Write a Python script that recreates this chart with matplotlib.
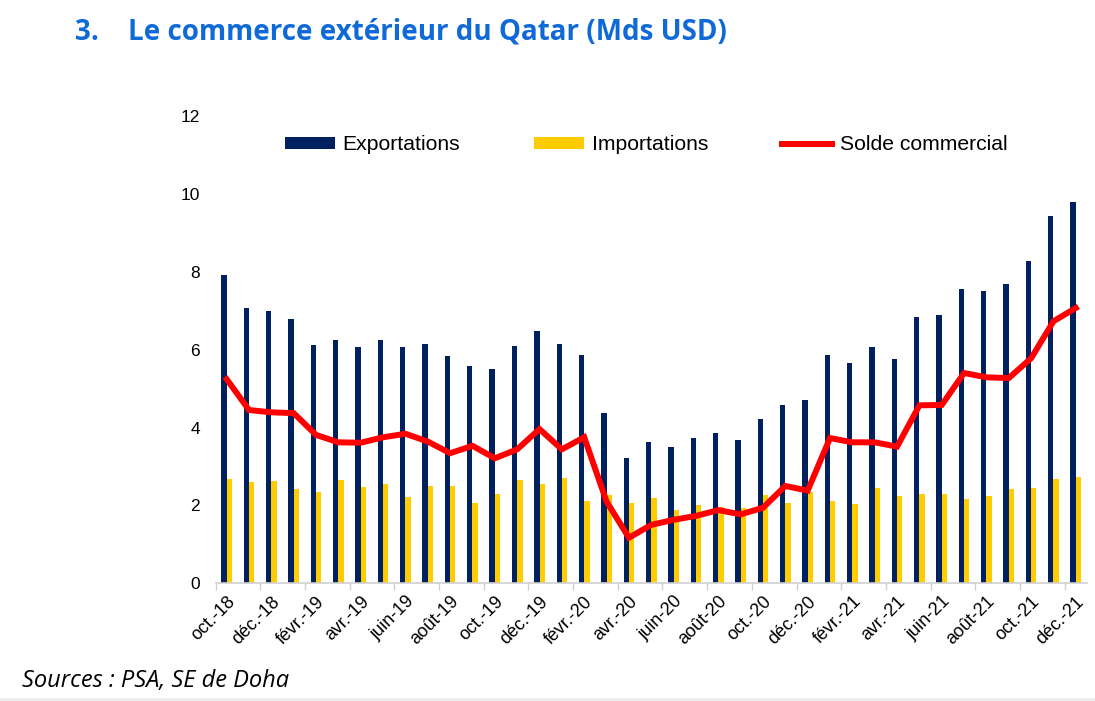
import matplotlib
matplotlib.use("Agg")
import matplotlib.pyplot as plt
from matplotlib.patches import Rectangle
from matplotlib.ticker import FixedLocator

months = ["oct.-18", "nov.-18", "déc.-18", "janv.-19", "févr.-19", "mars-19", "avr.-19",
          "mai-19", "juin-19", "juil.-19", "août-19", "sept.-19", "oct.-19", "nov.-19",
          "déc.-19", "janv.-20", "févr.-20", "mars-20", "avr.-20", "mai-20", "juin-20",
          "juil.-20", "août-20", "sept.-20", "oct.-20", "nov.-20", "déc.-20", "janv.-21",
          "févr.-21", "mars-21", "avr.-21", "mai-21", "juin-21", "juil.-21", "août-21",
          "sept.-21", "oct.-21", "nov.-21", "déc.-21"]

exportations = [7.91, 7.07, 6.98, 6.79, 6.13, 6.25, 6.08, 6.25, 6.06, 6.14, 5.83, 5.59, 5.51,
                6.09, 6.49, 6.15, 5.86, 4.38, 3.22, 3.64, 3.50, 3.74, 3.86, 3.68, 4.22, 4.57,
                4.71, 5.86, 5.66, 6.07, 5.76, 6.85, 6.88, 7.57, 7.51, 7.68, 8.28, 9.44, 9.79]

importations = [2.68, 2.61, 2.62, 2.42, 2.34, 2.64, 2.48, 2.54, 2.22, 2.51, 2.51, 2.06, 2.30,
                2.66, 2.55, 2.71, 2.12, 2.28, 2.05, 2.18, 1.88, 2.02, 1.95, 1.93, 2.27, 2.07,
                2.34, 2.12, 2.03, 2.44, 2.24, 2.29, 2.29, 2.17, 2.23, 2.42, 2.45, 2.68, 2.72]

solde = [5.24, 4.45, 4.39, 4.37, 3.81, 3.62, 3.61, 3.75, 3.84, 3.64, 3.34, 3.53, 3.21,
         3.44, 3.96, 3.44, 3.75, 2.10, 1.17, 1.50, 1.63, 1.73, 1.88, 1.77, 1.94, 2.50,
         2.38, 3.73, 3.62, 3.62, 3.51, 4.57, 4.58, 5.40, 5.29, 5.27, 5.78, 6.73, 7.07]

y_ticks = [0, 2, 4, 6, 8, 10, 12]

NAVY = "#002060"
YELLOW = "#FFCC00"
RED = "#FF0000"
TITLE_BLUE = "#0F6AD8"

W, H = 1095, 701
fig = plt.figure(figsize=(W / 100, H / 100), dpi=100)
fig.patch.set_facecolor("white")

ax = fig.add_axes([215.5 / W, (H - 583.3) / H, 871.5 / W, 467.3 / H])

x = list(range(len(months)))
bw = 0.24
b1 = ax.bar([i - bw / 2 for i in x], exportations, width=bw, color=NAVY, label="Exportations", zorder=2)
b2 = ax.bar([i + bw / 2 for i in x], importations, width=bw, color=YELLOW, label="Importations", zorder=2)
l1, = ax.plot(x, solde, color=RED, linewidth=4.3, solid_joinstyle="miter", label="Solde commercial", zorder=3)

ax.set_xlim(-0.5, len(months) - 0.5)
ax.set_ylim(0, 12)

ax.set_yticks(y_ticks)
ax.set_yticklabels([str(v) for v in y_ticks], fontsize=12.5, family="Liberation Sans")
ax.tick_params(axis="y", length=0, pad=11)

ax.set_xticks(x[::2])
ax.set_xticklabels(months[::2], rotation=45, ha="right", va="top", rotation_mode="anchor",
                   fontsize=13, family="Liberation Sans")
ax.tick_params(axis="x", which="major", length=0, pad=7)
ax.xaxis.set_minor_locator(FixedLocator([i - 0.5 for i in x[::2]]))
ax.tick_params(axis="x", which="minor", length=5, width=1, color="#D0D0D0", direction="out")

for s in ["top", "right", "left"]:
    ax.spines[s].set_visible(False)
ax.spines["bottom"].set_color("#D0D0D0")
ax.spines["bottom"].set_linewidth(1.2)

leg = ax.legend([b1, b2, l1], ["Exportations", "Importations", "Solde commercial"],
                loc="center left", bbox_to_anchor=((285 - 215.5) / 871.5, (583.3 - 145) / 467.3),
                ncol=3, frameon=False, borderpad=0, borderaxespad=0,
                prop={"family": "Liberation Sans", "size": 15.2},
                handlelength=2.35, handleheight=0.5, handletextpad=0.38, columnspacing=3.5)

fig.text(75 / W, 1 - 32 / H, "3.", family="Open Sans", weight="bold", fontsize=20,
         color=TITLE_BLUE, va="center", ha="left")
fig.text(128 / W, 1 - 32 / H, "Le commerce extérieur du Qatar (Mds USD)", family="Open Sans",
         weight="bold", fontsize=20, color=TITLE_BLUE, va="center", ha="left")

fig.text(22 / W, 1 - 681 / H, "Sources : PSA, SE de Doha", family="Open Sans", style="italic",
         fontsize=17, color="black", va="center", ha="left")

fig.patches.append(Rectangle((0, 0), 1, 3.5 / H, transform=fig.transFigure,
                             facecolor="#EEEEEE", edgecolor="none"))

fig.savefig("out.png", dpi=100)
